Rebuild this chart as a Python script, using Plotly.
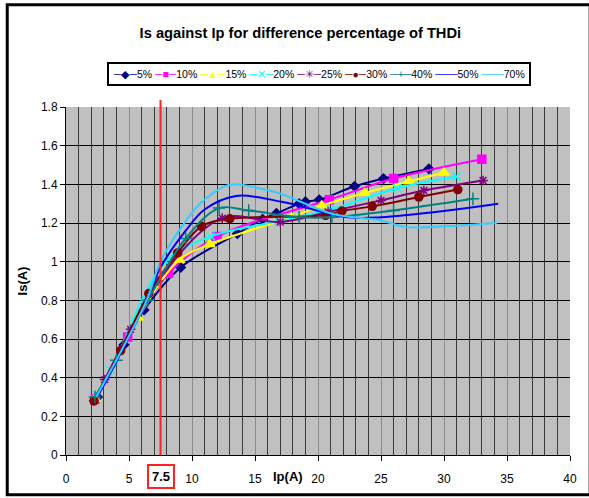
import plotly.graph_objects as go

# ---------------- data ----------------
names = ["5%", "10%", "15%", "20%", "25%", "30%", "40%", "50%", "70%"]

x5 = [2.5, 4.6, 6.2, 9.1, 13.6, 15.6, 16.7, 18.5, 19.0, 20.1, 22.9, 25.2, 28.8]
y5 = [0.30, 0.57, 0.75, 0.97, 1.145, 1.22, 1.25, 1.30, 1.31, 1.32, 1.39, 1.43, 1.48]

x10 = [2.3, 4.9, 8.15, 12.0, 20.9, 26.0, 33.0]
y10 = [0.29, 0.61, 0.94, 1.13, 1.32, 1.43, 1.53]

x15 = [2.3, 5.7, 9.0, 11.4, 17.9, 20.3, 23.7, 27.2, 30.0]
y15 = [0.29, 0.71, 1.01, 1.09, 1.23, 1.29, 1.355, 1.415, 1.46]

x20 = [2.2, 3.55, 7.9, 11.5, 16.9, 21.0, 26.3, 31.0]
y20 = [0.29, 0.44, 1.0, 1.13, 1.21, 1.27, 1.38, 1.44]

x25 = [2.2, 3.07, 5.13, 7.3, 12.4, 17.0, 20.8, 25.0, 28.4, 33.1]
y25 = [0.28, 0.39, 0.65, 0.90, 1.225, 1.205, 1.257, 1.317, 1.368, 1.42]

x30 = [2.23, 4.34, 6.57, 8.86, 10.75, 13.0, 20.6, 21.9, 24.3, 28.0, 31.1]
y30 = [0.28, 0.54, 0.835, 1.045, 1.183, 1.222, 1.24, 1.262, 1.286, 1.334, 1.373]

x40 = [2.3, 4.0, 6.5, 9.5, 12.15, 14.5, 18.5, 21.1, 26.0, 32.3]
y40 = [0.30, 0.49, 0.80, 1.12, 1.277, 1.265, 1.23, 1.23, 1.265, 1.325]

x50 = [2.4, 2.94, 6.4, 7.5, 9.5, 11.0, 13.5, 17.1, 22.4, 25.0, 30.3, 34.3]
y50 = [0.30, 0.354, 0.80, 0.97, 1.16, 1.27, 1.34, 1.31, 1.23, 1.23, 1.265, 1.30]

x70 = [2.4, 6.4, 7.5, 9.5, 10.8, 12.9, 15.3, 17.1, 21.1, 25.0, 26.9, 30.3, 34.2]
y70 = [0.30, 0.80, 1.0, 1.21, 1.31, 1.397, 1.38, 1.35, 1.248, 1.213, 1.18, 1.184, 1.20]

xs = [x5, x10, x15, x20, x25, x30, x40, x50, x70]
ys = [y5, y10, y15, y20, y25, y30, y40, y50, y70]

colors = ["#000080", "#FF00FF", "#FFFF00", "#00FFFF", "#800080",
          "#800000", "#008080", "#0000FF", "#33CCFF"]
symbols = ["diamond", "square", "triangle-up", "x-thin-open", "asterisk-open",
           "circle", "cross-thin-open", None, None]
legend_glyphs = ["◆", "■", "▲", "✕", "✳", "●", "+", "─", "─"]
sizes = [7, 8, 9, 8, 8, 8, 9, 0, 0]

x_ticks = [0, 5, 10, 15, 20, 25, 30, 35, 40]
y_ticks = [0, 0.2, 0.4, 0.6, 0.8, 1, 1.2, 1.4, 1.6, 1.8]
marker_line = 7.5

fig = go.Figure()
for n, x, y, c, s, sz in zip(names, xs, ys, colors, symbols, sizes):
    if s is None:
        fig.add_trace(go.Scatter(x=x, y=y, name=n, mode="lines", showlegend=False,
                                 line=dict(color=c, width=2, shape="spline")))
    else:
        fig.add_trace(go.Scatter(x=x, y=y, name=n, mode="lines+markers", showlegend=False,
                                 line=dict(color=c, width=2, shape="spline"),
                                 marker=dict(symbol=s, size=sz, color=c,
                                             line=dict(color=c, width=1.5))))

fig.add_shape(type="line", xref="x", yref="paper", x0=marker_line, x1=marker_line,
              y0=0, y1=1.02, line=dict(color="#FF2020", width=2))

# outer frame
fig.add_shape(type="rect", xref="paper", yref="paper",
              x0=-0.1166, x1=1.04, y0=-0.114, y1=1.294,
              line=dict(color="black", width=3), layer="below")

# legend as a text box
parts = []
for n, c, g in zip(names, colors, legend_glyphs):
    parts.append(f"<span style='color:{c}'>─{g}─</span>{n}")
legend_text = " ".join(parts)
fig.add_annotation(x=0.501, xref="paper", y=1.0957, yref="paper", text=legend_text,
                   showarrow=False, font=dict(size=10.5, color="black",
                                              family="Liberation Sans, Arial, sans-serif"),
                   bordercolor="black", borderwidth=2, borderpad=4, bgcolor="white",
                   xanchor="center", yanchor="middle")

fig.add_annotation(x=marker_line, xref="x", y=-0.0614, yref="paper", text="<b>7.5</b>",
                   showarrow=False, font=dict(size=13, color="black"),
                   xanchor="center", yanchor="middle",
                   bordercolor="#FF2020", borderwidth=2, borderpad=3, bgcolor="white")
fig.add_annotation(x=17.6, xref="x", y=-0.0614, yref="paper", text="<b>Ip(A)</b>",
                   showarrow=False, font=dict(size=13, color="black"),
                   xanchor="center", yanchor="middle")

fig.update_layout(
    width=589, height=498,
    margin=dict(l=66, r=17, t=107, b=41),
    paper_bgcolor="white", plot_bgcolor="#C0C0C0",
    font=dict(family="Liberation Sans, Arial, sans-serif", size=12, color="black"),
    title=dict(text="<b>Is against Ip for difference percentage of THDi</b>",
               x=0.51, xanchor="center", y=0.935, yanchor="middle",
               font=dict(size=14.7)),
    showlegend=False,
    xaxis=dict(range=[0, 40], tickvals=x_ticks, ticks="outside", ticklen=5,
               tickcolor="black", showline=True, linecolor="black",
               gridcolor="#8A8A8A", gridwidth=1, zeroline=False,
               ticklabelstandoff=8,
               minor=dict(dtick=1, showgrid=True, gridcolor="#3A3A3A", gridwidth=1)),
    yaxis=dict(range=[0, 1.8], tickvals=y_ticks, ticks="outside", ticklen=5,
               tickcolor="black", showline=True, linecolor="black",
               gridcolor="black", gridwidth=1, zeroline=False,
               title=dict(text="<b>Is(A)</b>", standoff=10, font=dict(size=13))),
)

fig.write_html("out.html", config={"displayModeBar": False},
               post_script="document.body.style.margin='0';")
